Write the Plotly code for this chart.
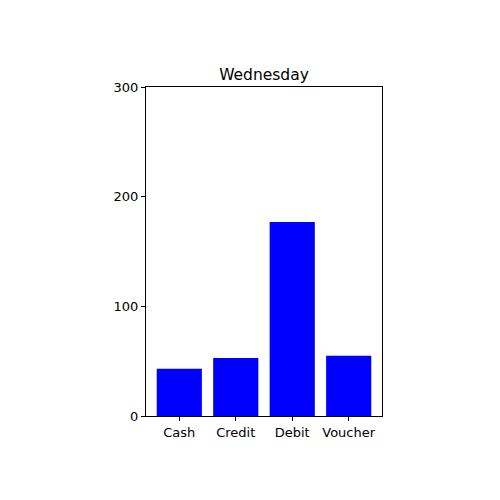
import plotly.graph_objects as go

categories = ["Cash", "Credit", "Debit", "Voucher"]
values = [43, 53, 177, 55]
y_ticks = [0, 100, 200, 300]

fig = go.Figure(go.Bar(x=categories, y=values, marker=dict(color="#0000ff", line=dict(width=0)), width=0.8))

fig.update_layout(
    width=500, height=500,
    margin=dict(l=138, r=126, t=79, b=92),
    paper_bgcolor="white", plot_bgcolor="white",
    font=dict(family="DejaVu Sans", size=13, color="black"),
    title=dict(text="Wednesday", x=(138+374)/2/500, xanchor="center", y=1-67/500, yanchor="middle",
               font=dict(size=15.5, family="DejaVu Sans", color="black")),
    showlegend=False,
)
fig.update_xaxes(range=[-0.59, 3.59], showline=True, linecolor="black", linewidth=1, mirror=True,
                 ticks="outside", ticklen=4, tickcolor="black", showgrid=False, zeroline=False)
fig.update_yaxes(range=[0, 300], tickvals=y_ticks, showline=True, linecolor="black", linewidth=1, mirror=True,
                 ticks="outside", ticklen=4, tickcolor="black", showgrid=False, zeroline=False)

fig.write_html("out.html")
